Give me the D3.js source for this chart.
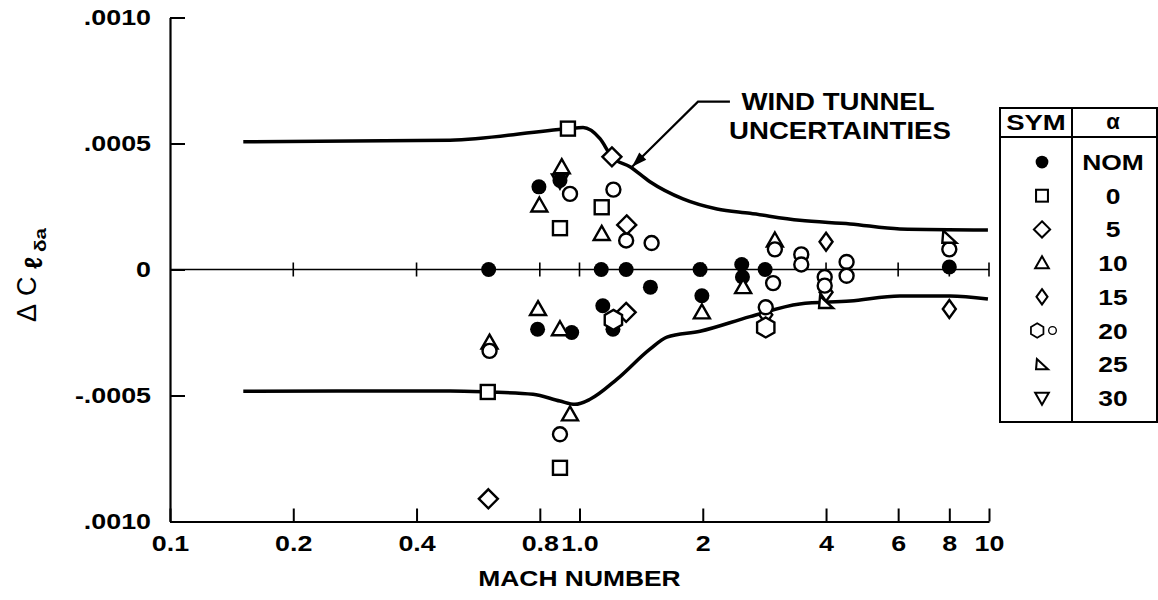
<!DOCTYPE html>
<meta charset="utf-8">
<style>
  body { margin: 0; background: #fff; }
  text { font-family: "Liberation Sans", Arial, sans-serif; font-weight: bold; fill: #000; }
  text.thin { font-weight: normal; }
</style>
<svg width="1158" height="600"></svg>
<script src="https://cdnjs.cloudflare.com/ajax/libs/d3/7.8.5/d3.min.js"></script>
<script>
  // axis ticks
  var machTicks = [0.1, 0.2, 0.4, 0.8, 1, 2, 4, 6, 8, 10]
  var machLabels = ["0.1", "0.2", "0.4", "0.8", "1.0", "2", "4", "6", "8", "10"]
  var valTicks = [0.001, 0.0005, 0, -0.0005, -0.001]
  var valLabels = [".0010", ".0005", "0", "-.0005", ".0010"]

  // wind tunnel uncertainty bounds
  var upperMach = [0.151, 0.483, 0.937, 1.02, 1.122, 1.20, 1.328, 1.486, 1.789, 2.167, 2.609, 3.45, 4.58, 6.06, 9.94]
  var upperVal = [0.000507, 0.000513, 0.000559, 0.000563, 0.000519, 0.000447, 0.000408, 0.000348, 0.00028, 0.00024, 0.000223, 0.000195, 0.000181, 0.000161, 0.000157]
  var lowerMach = [0.151, 0.483, 0.597, 0.770, 0.896, 0.975, 1.061, 1.235, 1.486, 1.635, 1.970, 2.609, 3.45, 4.58, 6.06, 8.03, 9.94]
  var lowerVal = [-0.000483, -0.000482, -0.000486, -0.000495, -0.000522, -0.000535, -0.000515, -0.000435, -0.000316, -0.000268, -0.000245, -0.000187, -0.000137, -0.000125, -0.000105, -0.000105, -0.000117]

  // flight points [mach, delta], one list per alpha
  var alphaNom = [[0.60, 0], [0.796, 0.000328], [0.79, -0.000237], [0.896, 0.000353], [0.957, -0.00025], [1.13, 0], [1.30, 0], [1.14, -0.000144], [1.207, -0.000237], [1.49, -0.00007], [1.97, 0], [1.99, -0.000104], [2.49, 0.00002], [2.5, -0.00003], [2.84, 0], [8.0, 0.00001]]
  var alpha0 = [[0.937, 0.000559], [0.597, -0.000486], [0.896, 0.000164], [1.133, 0.000247], [0.896, -0.000787]]
  var alpha5 = [[1.20, 0.000447], [1.304, 0.000177], [1.30, -0.00017], [0.599, -0.00091]]
  var alpha10 = [[0.905, 0.000406], [0.798, 0.000254], [1.133, 0.000141], [0.792, -0.000157], [0.896, -0.000237], [0.603, -0.00029], [0.948, -0.000575], [1.99, -0.00017], [2.51, -0.00007], [3.0, 0.000115]]
  var alpha15 = [[4.0, 0.00011], [8.0, -0.000157], [2.85, -0.00018], [4.0, -0.00009]]
  var alpha20 = [[0.948, 0.0003], [1.21, 0.000317], [1.30, 0.000115], [1.50, 0.000105], [0.603, -0.000323], [0.896, -0.000654], [2.97, -0.000054], [3.0, 0.00008], [3.48, 0.00006], [3.48, 0.00002], [4.49, 0.00003], [4.49, -0.000025], [3.97, -0.00003], [3.97, -0.000064], [2.85, -0.00015], [8.0, 0.00008]]
  var alpha20big = [[2.85, -0.00023], [1.21, -0.0002]]
  var alpha25 = [[8.0, 0.00013], [4.0, -0.000129]]
  var alpha30 = [[0.896, 0.000353]]

  var legendNames = ["NOM", "0", "5", "10", "15", "20", "25", "30"]
  var legendSyms = ["dot", "square", "diamond", "tri", "slim", "hexring", "tri25", "tri30"]

  var svg = d3.select("svg")
  var x = d3.scaleLog().domain([0.1, 10]).range([170, 989])
  var y = d3.scaleLinear().domain([-0.001, 0.001]).range([521.5, 17.5])

  function stretch(sel, k) {
    sel.each(function () {
      var w = this.getComputedTextLength()
      d3.select(this).attr("textLength", w * k).attr("lengthAdjust", "spacingAndGlyphs")
    })
  }

  function poly(pts) { return "M" + pts.map(p => p.join(",")).join("L") + "Z" }

  function marker(g, type, cx, cy, s) {
    var m = g.append("g").attr("transform", "translate(" + cx + "," + cy + ") scale(" + s + ")")
    var st = { fill: "#fff", stroke: "#000", "stroke-width": 2.4 }
    var el
    if (type == "dot") { m.append("circle").attr("r", 7.5).attr("fill", "#000"); return }
    if (type == "ring") el = m.append("circle").attr("r", 7)
    if (type == "square") el = m.append("rect").attr("x", -7).attr("y", -7).attr("width", 14).attr("height", 14)
    if (type == "diamond") el = m.append("path").attr("d", poly([[0, -9.5], [9.5, 0], [0, 9.5], [-9.5, 0]]))
    if (type == "tri") el = m.append("path").attr("d", poly([[0, -8], [8, 6], [-8, 6]]))
    if (type == "slim") el = m.append("path").attr("d", poly([[0, -9], [6.5, 0], [0, 9], [-6.5, 0]]))
    if (type == "hex") el = m.append("path").attr("d", poly(d3.range(6).map(k => [10 * Math.cos(Math.PI / 3 * k - Math.PI / 2), 10 * Math.sin(Math.PI / 3 * k - Math.PI / 2)])))
    if (type == "tri25") el = m.append("path").attr("d", poly([[-6, -6], [7, 6], [-7, 6]]))
    if (type == "tri30") el = m.append("path").attr("d", poly([[-8, -6], [8, -6], [0, 8]])).attr("fill", "none")
    if (type == "hexring") {
      marker(m, "hex", -8, 0, 0.85)
      m.append("circle").attr("cx", 10).attr("r", 4.5).attr("fill", "#fff").attr("stroke", "#000").attr("stroke-width", 1.6)
      return
    }
    for (var k in st) if (!el.attr(k)) el.attr(k, st[k])
  }

  // axes
  svg.append("g").attr("transform", "translate(0," + y(-0.001) + ")")
    .call(d3.axisBottom(x).tickValues(machTicks).tickSizeInner(-13).tickSizeOuter(0).tickPadding(14)
      .tickFormat((d, i) => machLabels[i]))
  svg.append("g").attr("transform", "translate(" + x(0.1) + ",0)")
    .call(d3.axisLeft(y).tickValues(valTicks).tickSizeInner(-15).tickSizeOuter(0).tickPadding(19)
      .tickFormat((d, i) => valLabels[i]))
  svg.selectAll(".domain").attr("stroke-width", 2.2)
  svg.selectAll(".tick line").attr("stroke-width", 2)
  svg.selectAll(".tick text").attr("font-size", 22).call(stretch, 1.22)

  // zero reference line with crossing ticks
  var y0 = y(0)
  svg.append("line").attr("x1", x(0.1)).attr("x2", x(10)).attr("y1", y0).attr("y2", y0)
    .attr("stroke", "#000").attr("stroke-width", 1.6)
  svg.selectAll(".zt").data(machTicks.slice(1)).enter().append("line")
    .attr("x1", d => x(d)).attr("x2", d => x(d)).attr("y1", y0 - 7).attr("y2", y0 + 7)
    .attr("stroke", "#000").attr("stroke-width", 1.6)

  // uncertainty curves
  var line = d3.line().x(d => x(d[0])).y(d => y(d[1])).curve(d3.curveMonotoneX)
  svg.append("path").attr("d", line(d3.zip(upperMach, upperVal)))
    .attr("fill", "none").attr("stroke", "#000").attr("stroke-width", 3.5)
  svg.append("path").attr("d", line(d3.zip(lowerMach, lowerVal)))
    .attr("fill", "none").attr("stroke", "#000").attr("stroke-width", 3.5)

  // points
  var pts = svg.append("g")
  var series = [[alphaNom, "dot"], [alpha30, "tri30"], [alpha0, "square"], [alpha5, "diamond"], [alpha10, "tri"],
    [alpha15, "slim"], [alpha20, "ring"], [alpha20big, "hex"], [alpha25, "tri25"]]
  series.forEach(s => s[0].forEach(d => marker(pts, s[1], x(d[0]), y(d[1]), 1)))

  // annotation
  var tip = [x(1.344), y(0.000408)], elbow = [x(1.947), y(0.000666)], end = [x(2.33), y(0.000666)]
  svg.append("path").attr("d", "M" + end + "L" + elbow + "L" + tip)
    .attr("fill", "none").attr("stroke", "#000").attr("stroke-width", 2.2)
  var ang = Math.atan2(tip[1] - elbow[1], tip[0] - elbow[0])
  var hl = 15, hw = 5
  var bx = tip[0] - hl * Math.cos(ang), by = tip[1] - hl * Math.sin(ang)
  svg.append("path").attr("d", poly([tip, [bx + hw * Math.sin(ang), by - hw * Math.cos(ang)], [bx - hw * Math.sin(ang), by + hw * Math.cos(ang)]]))
    .attr("fill", "#000")
  var note = svg.append("g").attr("font-size", 23).attr("text-anchor", "middle")
  note.append("text").attr("x", 838).attr("y", elbow[1] + 8).text("WIND TUNNEL")
  note.append("text").attr("x", 840).attr("y", elbow[1] + 37).text("UNCERTAINTIES")
  note.selectAll("text").call(stretch, 1.2)

  // axis titles
  svg.append("text").attr("x", x(1)).attr("y", 586).attr("text-anchor", "middle").attr("font-size", 22)
    .text("MACH NUMBER").call(stretch, 1.2)
  // rotated y title built piece by piece: delta, C, script l, delta-a subscript
  var yt = svg.append("g").attr("transform", "translate(36,322) rotate(-90)")
  yt.append("text").attr("class", "thin").attr("x", 0).attr("font-size", 27).text("\u0394")
  yt.append("text").attr("class", "thin").attr("x", 26).attr("font-size", 27).text("C")
  yt.append("text").attr("x", 53).attr("y", 6).attr("font-size", 25).text("\u2113")
  yt.append("text").attr("x", 70).attr("y", 10).attr("font-size", 17).attr("textLength", 24).attr("lengthAdjust", "spacingAndGlyphs").text("\u03b4a")

  // legend table
  var lg = svg.append("g")
  var lx0 = 1000, lx1 = 1072, lx2 = 1157, ly0 = 108, ly1 = 137, ly2 = 422
  lg.append("rect").attr("x", lx0).attr("y", ly0).attr("width", lx2 - lx0).attr("height", ly2 - ly0)
    .attr("fill", "none").attr("stroke", "#000").attr("stroke-width", 2)
  lg.append("line").attr("x1", lx1).attr("x2", lx1).attr("y1", ly0).attr("y2", ly2).attr("stroke", "#000").attr("stroke-width", 2)
  lg.append("line").attr("x1", lx0).attr("x2", lx2).attr("y1", ly1).attr("y2", ly1).attr("stroke", "#000").attr("stroke-width", 2)
  lg.append("text").attr("x", 1036).attr("y", 130).attr("text-anchor", "middle").attr("font-size", 22).text("SYM").call(stretch, 1.25)
  lg.append("text").attr("x", 1113).attr("y", 129).attr("text-anchor", "middle").attr("font-size", 22).text("\u03b1")
  legendNames.forEach((n, i) => {
    var ry = 162 + i * 33.7
    marker(lg, legendSyms[i], legendSyms[i] == "hexring" ? 1044 : 1042, ry, 0.85)
    lg.append("text").attr("x", 1113).attr("y", ry + 8).attr("text-anchor", "middle").attr("font-size", 22).text(n).call(stretch, 1.2)
  })
</script>
